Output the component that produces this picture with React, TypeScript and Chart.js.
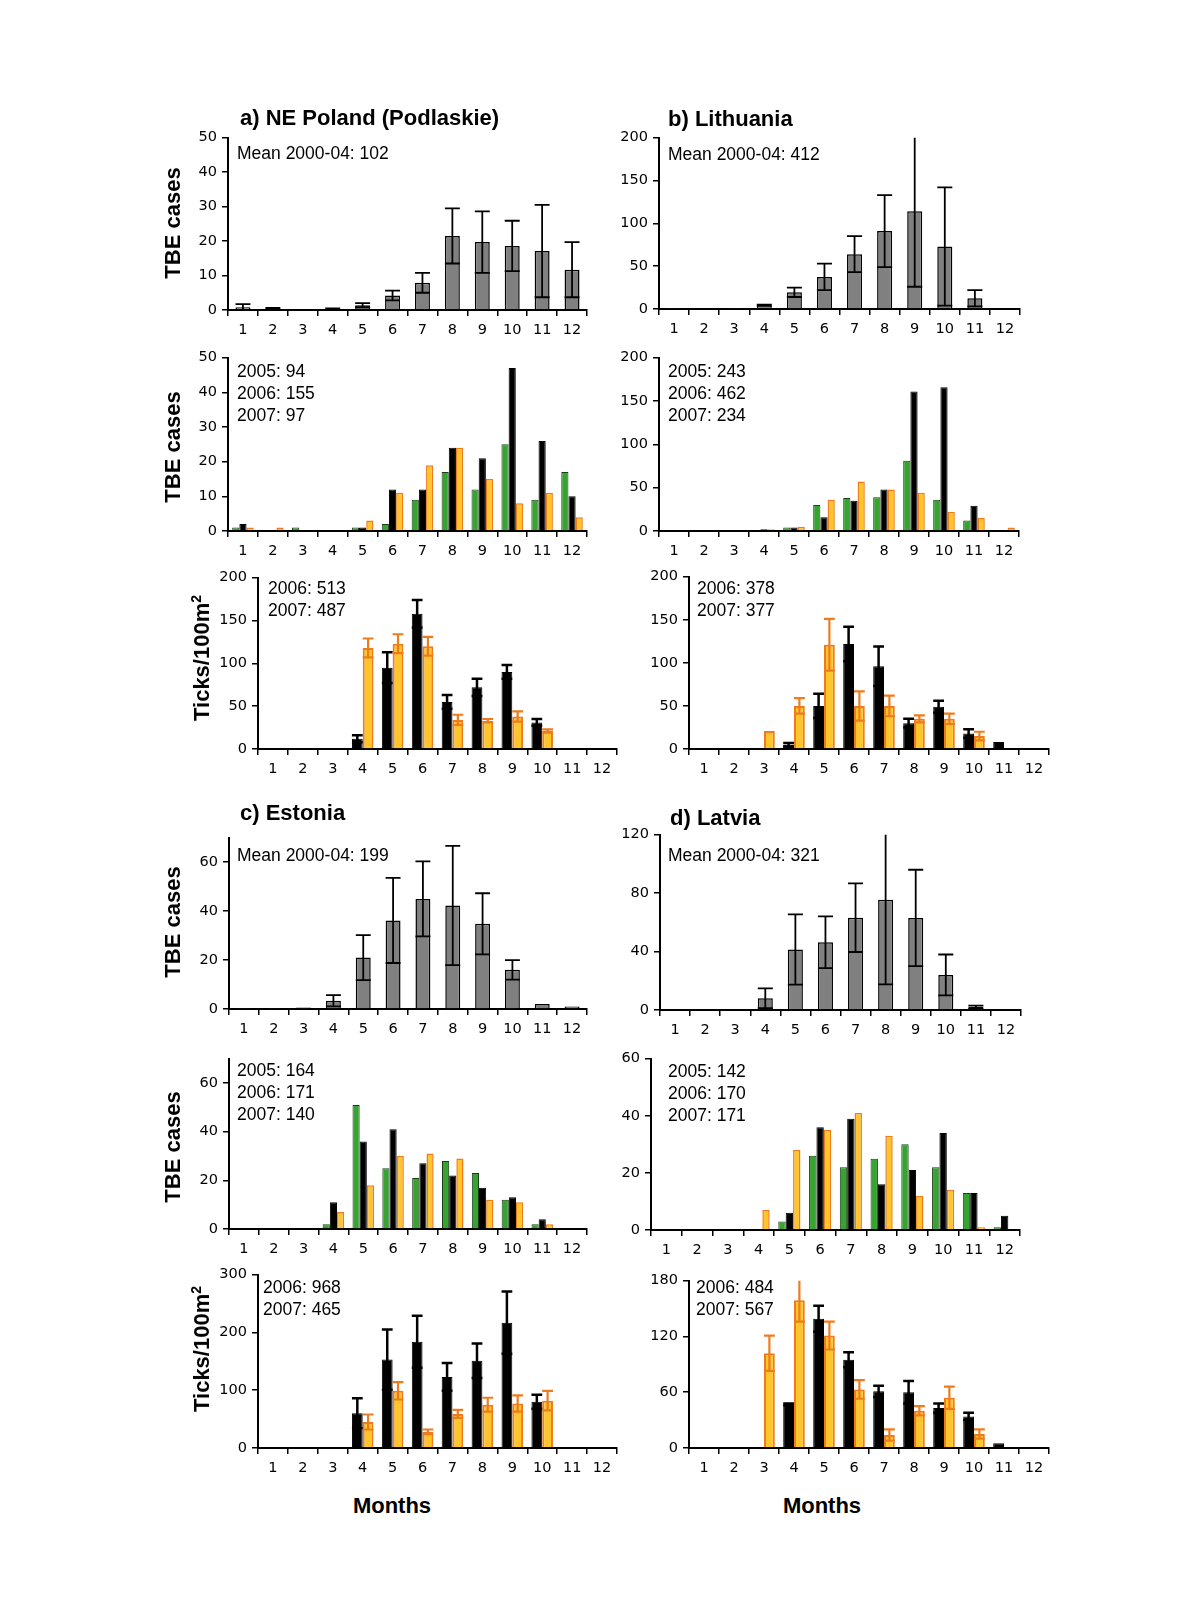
import React, { useEffect, useRef } from 'react';
import { Chart, registerables } from 'chart.js';

Chart.register(...registerables);

// ---------- data ----------
const MONTHS = ['1', '2', '3', '4', '5', '6', '7', '8', '9', '10', '11', '12'];

// a) NE Poland (Podlaskie)
const POL_MEAN = [0.8, 0.5, 0, 0.4, 1.4, 4.2, 7.9, 21.5, 19.7, 18.6, 17.1, 11.7];
const POL_MEAN_SD = [0.9, 0.1, 0, 0.1, 0.6, 1.4, 2.9, 8, 8.9, 7.3, 13.4, 8];
const POL_2005 = [1, 0, 1, 0, 1, 2, 9, 17, 12, 25, 9, 17];
const POL_2006 = [2, 0, 0, 0, 1, 12, 12, 24, 21, 47, 26, 10];
const POL_2007 = [1, 1, 0, 0, 3, 11, 19, 24, 15, 8, 11, 4];
const POL_TICKS_2006 = [null, null, null, 12, 95, 158, 55, 72, 90, 31, null, null];
const POL_TICKS_2006_SD = [0, 0, 0, 4, 18, 16, 8, 10, 8, 4, 0, 0];
const POL_TICKS_2007 = [null, null, null, 118, 123, 120, 34, 33, 38, 21, null, null];
const POL_TICKS_2007_SD = [0, 0, 0, 11, 11, 11, 6, 2, 6, 2, 0, 0];

// b) Lithuania
const LTU_MEAN = [0.5, 0, 0.5, 4.5, 19.5, 37.5, 64, 91, 114, 73, 12.5, 0];
const LTU_MEAN_SD = [0, 0, 0, 0.5, 5.5, 15.5, 21, 42, 88, 69, 9.5, 0];
const LTU_2005 = [0, 1, 0, 1, 4, 30, 38, 39, 81, 36, 12, 1];
const LTU_2006 = [0, 0, 0, 2, 4, 16, 35, 48, 161, 166, 29, 1];
const LTU_2007 = [1, 0, 0, 2, 5, 36, 57, 48, 44, 22, 15, 4];
const LTU_TICKS_2006 = [null, null, null, 5, 50, 122, 96, 30, 49, 18, 8, null];
const LTU_TICKS_2006_SD = [0, 0, 0, 2, 14, 20, 23, 5, 7, 5, 0, 0];
const LTU_TICKS_2007 = [null, null, 21, 50, 121, 50, 50, 35, 35, 15, null, null];
const LTU_TICKS_2007_SD = [0, 0, 0, 9, 30, 17, 12, 4, 6, 5, 0, 0];

// c) Estonia
const EST_MEAN = [0.2, 0.2, 0.6, 3.4, 21, 36.2, 45, 42.3, 34.8, 16, 2, 1];
const EST_MEAN_SD = [0, 0, 0, 2.3, 9.2, 17.4, 15.3, 24.4, 12.5, 4, 0, 0];
const EST_2005 = [0, 0, 0, 2, 51, 25, 21, 28, 23, 12, 2, 0];
const EST_2006 = [0, 0, 0, 11, 36, 41, 27, 22, 17, 13, 4, 0];
const EST_2007 = [0, 0, 0, 7, 18, 30, 31, 29, 12, 11, 2, 0];
const EST_TICKS_2006 = [null, null, null, 60, 153, 184, 123, 151, 217, 80, null, null];
const EST_TICKS_2006_SD = [0, 0, 0, 26, 52, 45, 24, 30, 54, 12, 0, 0];
const EST_TICKS_2007 = [null, null, null, 45, 99, 28, 59, 75, 77, 82, null, null];
const EST_TICKS_2007_SD = [0, 0, 0, 13, 15, 4, 7, 12, 14, 17, 0, 0];

// d) Latvia
const LVA_MEAN = [0, 0.5, 0.5, 8, 41.4, 46.4, 63.2, 75.5, 63, 24, 2, 0.5];
const LVA_MEAN_SD = [0, 0, 0, 6.8, 24, 17.7, 23.5, 58, 33, 14, 1, 0];
const LVA_2005 = [0, 0, 0, 0, 3, 26, 22, 25, 30, 22, 13, 1];
const LVA_2006 = [0, 0, 0, 0, 6, 36, 39, 16, 21, 34, 13, 5];
const LVA_2007 = [0, 0, 0, 7, 28, 35, 41, 33, 12, 14, 1, 0];
const LVA_TICKS_2006 = [null, null, null, 47, 139, 95, 61, 60, 43, 34, 5, null];
const LVA_TICKS_2006_SD = [0, 0, 0, 1, 14, 8, 6, 12, 5, 4, 0, 0];
const LVA_TICKS_2007 = [null, null, 102, 159, 121, 63, 14, 40, 54, 15, null, null];
const LVA_TICKS_2007_SD = [0, 0, 19, 23, 15, 10, 6, 5, 12, 5, 0, 0];

// ---------- styles ----------
const GRAY = '#808080';
const GREEN = '#37a432';
const GREEN_BORDER = '#1c3d1a';
const BLACK = '#000000';
const ORANGE = '#ffc52a';
const ORANGE_BORDER = '#ee7c1e';
const TICK_FONT = 'DejaVu Sans';
const TEXT_FONT = '"Liberation Sans", Arial, sans-serif';
const TICK_SIZE = 14.5;

const PL = 70, PR = 12, PT = 12, PB = 38;

const errorBarPlugin = {
  id: 'errorBars',
  afterDatasetsDraw(chart: any) {
    const { ctx, chartArea } = chart;
    const y = chart.scales.y;
    ctx.save();
    ctx.beginPath();
    ctx.rect(chartArea.left - 20, chartArea.top, chartArea.right - chartArea.left + 40, chartArea.bottom - chartArea.top + 2);
    ctx.clip();
    chart.data.datasets.forEach((ds: any, i: number) => {
      if (!ds.errors) return;
      const meta = chart.getDatasetMeta(i);
      meta.data.forEach((bar: any, j: number) => {
        const v = ds.data[j];
        const e = ds.errors[j];
        if (v == null || !e) return;
        const hi = y.getPixelForValue(v + e);
        const lo = y.getPixelForValue(Math.max(v - e, 0));
        const half = bar.width / 2;
        ctx.strokeStyle = ds.errColor;
        ctx.lineWidth = ds.errWidth;
        ctx.beginPath();
        ctx.moveTo(bar.x, lo);
        ctx.lineTo(bar.x, hi);
        ctx.moveTo(bar.x - half, hi);
        ctx.lineTo(bar.x + half, hi);
        ctx.moveTo(bar.x - half, lo);
        ctx.lineTo(bar.x + half, lo);
        ctx.stroke();
      });
    });
    ctx.restore();
  },
};

type DS = { data: (number | null)[]; errors?: number[]; bg: string; border: string; bw: number; errColor?: string; errWidth?: number };

type PanelProps = {
  left: number; top: number; right: number; bottom: number;
  yMax: number; yStep: number; catPct: number; datasets: DS[];
};

function Panel({ left, top, right, bottom, yMax, yStep, catPct, datasets }: PanelProps) {
  const ref = useRef<HTMLCanvasElement>(null);
  const w = right - left + PL + PR;
  const h = bottom - top + PT + PB;
  useEffect(() => {
    if (!ref.current) return;
    const chart = new Chart(ref.current, {
      type: 'bar',
      data: {
        labels: MONTHS,
        datasets: datasets.map((d) => ({
          data: d.data,
          errors: d.errors,
          errColor: d.errColor || '#000',
          errWidth: d.errWidth || 1.5,
          backgroundColor: d.bg,
          borderColor: d.border,
          borderWidth: d.bw,
          barPercentage: 1,
          categoryPercentage: catPct,
        })) as any,
      },
      options: {
        animation: false,
        responsive: false,
        maintainAspectRatio: false,
        devicePixelRatio: 1,
        layout: { padding: { top: PT, right: PR, left: 0, bottom: 0 } },
        plugins: { legend: { display: false }, tooltip: { enabled: false }, title: { display: false } },
        scales: {
          x: {
            type: 'category',
            offset: true,
            grid: { offset: true, drawOnChartArea: false, drawTicks: true, tickLength: 6, color: '#000', lineWidth: 1.5 },
            border: { display: true, color: '#000', width: 2 },
            ticks: { color: '#000', font: { family: TICK_FONT, size: TICK_SIZE }, padding: 6, maxRotation: 0, autoSkip: false },
            afterFit: (s: any) => { s.height = PB; },
          },
          y: {
            min: 0,
            max: yMax,
            ticks: { stepSize: yStep, color: '#000', font: { family: TICK_FONT, size: TICK_SIZE }, padding: 5 },
            afterBuildTicks: (s: any) => { s.ticks = s.ticks.filter((t: any) => Math.abs(t.value / yStep - Math.round(t.value / yStep)) < 1e-6); },
            grid: { drawOnChartArea: false, drawTicks: true, tickLength: 6, color: '#000', lineWidth: 1.5 },
            border: { display: true, color: '#000', width: 2 },
            afterFit: (s: any) => { s.width = PL; },
          },
        },
      } as any,
      plugins: [errorBarPlugin],
    });
    return () => chart.destroy();
  }, []);
  return (
    <canvas
      ref={ref}
      width={w}
      height={h}
      style={{ position: 'absolute', left: left - PL, top: top - PT, width: w, height: h }}
    />
  );
}

const meanDS = (data: number[], sd: number[]): DS[] => [
  { data, errors: sd, bg: GRAY, border: BLACK, bw: 1.5, errColor: BLACK, errWidth: 1.8 },
];
const yearsDS = (a: number[], b: number[], c: number[]): DS[] => [
  { data: a, bg: GREEN, border: GREEN_BORDER, bw: 1 },
  { data: b, bg: BLACK, border: BLACK, bw: 1 },
  { data: c, bg: ORANGE, border: ORANGE_BORDER, bw: 1.5 },
];
const ticksDS = (a: (number | null)[], asd: number[], b: (number | null)[], bsd: number[]): DS[] => [
  { data: a, errors: asd, bg: BLACK, border: BLACK, bw: 1, errColor: BLACK, errWidth: 2.5 },
  { data: b, errors: bsd, bg: ORANGE, border: ORANGE_BORDER, bw: 2, errColor: ORANGE_BORDER, errWidth: 2.2 },
];

const PANELS: PanelProps[] = [
  { left: 228, top: 136, right: 587, bottom: 310, yMax: 50, yStep: 10, catPct: 0.5, datasets: meanDS(POL_MEAN, POL_MEAN_SD) },
  { left: 659, top: 136, right: 1020, bottom: 309, yMax: 200, yStep: 50, catPct: 0.5, datasets: meanDS(LTU_MEAN, LTU_MEAN_SD) },
  { left: 228, top: 356, right: 587, bottom: 531, yMax: 50, yStep: 10, catPct: 0.72, datasets: yearsDS(POL_2005, POL_2006, POL_2007) },
  { left: 659, top: 356, right: 1019, bottom: 531, yMax: 200, yStep: 50, catPct: 0.72, datasets: yearsDS(LTU_2005, LTU_2006, LTU_2007) },
  { left: 258, top: 576, right: 617, bottom: 749, yMax: 200, yStep: 50, catPct: 0.72, datasets: ticksDS(POL_TICKS_2006, POL_TICKS_2006_SD, POL_TICKS_2007, POL_TICKS_2007_SD) },
  { left: 689, top: 575, right: 1049, bottom: 749, yMax: 200, yStep: 50, catPct: 0.72, datasets: ticksDS(LTU_TICKS_2006, LTU_TICKS_2006_SD, LTU_TICKS_2007, LTU_TICKS_2007_SD) },
  { left: 229, top: 836, right: 587, bottom: 1009, yMax: 70, yStep: 20, catPct: 0.5, datasets: meanDS(EST_MEAN, EST_MEAN_SD) },
  { left: 660, top: 833, right: 1021, bottom: 1010, yMax: 120, yStep: 40, catPct: 0.5, datasets: meanDS(LVA_MEAN, LVA_MEAN_SD) },
  { left: 229, top: 1057, right: 587, bottom: 1229, yMax: 70, yStep: 20, catPct: 0.72, datasets: yearsDS(EST_2005, EST_2006, EST_2007) },
  { left: 651, top: 1057, right: 1020, bottom: 1230, yMax: 60, yStep: 20, catPct: 0.72, datasets: yearsDS(LVA_2005, LVA_2006, LVA_2007) },
  { left: 258, top: 1273, right: 617, bottom: 1448, yMax: 300, yStep: 100, catPct: 0.72, datasets: ticksDS(EST_TICKS_2006, EST_TICKS_2006_SD, EST_TICKS_2007, EST_TICKS_2007_SD) },
  { left: 689, top: 1279, right: 1049, bottom: 1448, yMax: 180, yStep: 60, catPct: 0.72, datasets: ticksDS(LVA_TICKS_2006, LVA_TICKS_2006_SD, LVA_TICKS_2007, LVA_TICKS_2007_SD) },
];

// text: [x, yCenterOfFirstLine, lines]
const NOTES: [number, number, string[]][] = [
  [237, 154, ['Mean 2000-04: 102']],
  [668, 155, ['Mean 2000-04: 412']],
  [237, 372, ['2005: 94', '2006: 155', '2007: 97']],
  [668, 372, ['2005: 243', '2006: 462', '2007: 234']],
  [268, 589, ['2006: 513', '2007: 487']],
  [697, 589, ['2006: 378', '2007: 377']],
  [237, 856, ['Mean 2000-04: 199']],
  [668, 856, ['Mean 2000-04: 321']],
  [237, 1071, ['2005: 164', '2006: 171', '2007: 140']],
  [668, 1072, ['2005: 142', '2006: 170', '2007: 171']],
  [263, 1288, ['2006: 968', '2007: 465']],
  [696, 1288, ['2006: 484', '2007: 567']],
];

const TITLES: [number, number, string][] = [
  [240, 118, 'a) NE Poland (Podlaskie)'],
  [668, 119, 'b) Lithuania'],
  [240, 813, 'c) Estonia'],
  [670, 818, 'd) Latvia'],
];

const YTITLES: [number, number, boolean][] = [
  [173, 223, false],
  [173, 447, false],
  [202, 658, true],
  [173, 922, false],
  [173, 1147, false],
  [202, 1349, true],
];

export default function App() {
  return (
    <div style={{ position: 'absolute', left: 0, top: 0, width: 1200, height: 1600, background: '#fff', overflow: 'hidden' }}>
      {PANELS.map((p, i) => (
        <Panel key={i} {...p} />
      ))}
      {TITLES.map(([x, y, t], i) => (
        <div key={'t' + i} style={{ position: 'absolute', left: x, top: y, transform: 'translateY(-50%)', fontFamily: TEXT_FONT, fontWeight: 'bold', fontSize: 22, lineHeight: 1, whiteSpace: 'nowrap', color: '#000' }}>{t}</div>
      ))}
      {NOTES.map(([x, y, lines], i) => (
        <div key={'n' + i} style={{ position: 'absolute', left: x, top: y - 10.8, fontFamily: TEXT_FONT, fontSize: 17.5, lineHeight: '21.7px', whiteSpace: 'nowrap', color: '#000' }}>
          {lines.map((l, k) => (<div key={k}>{l}</div>))}
        </div>
      ))}
      {YTITLES.map(([x, y, ticks], i) => (
        <div key={'y' + i} style={{ position: 'absolute', left: x, top: y, transform: 'translate(-50%, -50%) rotate(-90deg)', fontFamily: TEXT_FONT, fontWeight: 'bold', fontSize: 22, lineHeight: 1, whiteSpace: 'nowrap', color: '#000' }}>
          {ticks ? (<span>Ticks/100m<sup style={{ fontSize: 14, verticalAlign: 'super', lineHeight: 0 }}>2</sup></span>) : 'TBE cases'}
        </div>
      ))}
      {[392, 822].map((x, i) => (
        <div key={'m' + i} style={{ position: 'absolute', left: x, top: 1506, transform: 'translate(-50%, -50%)', fontFamily: TEXT_FONT, fontWeight: 'bold', fontSize: 22, lineHeight: 1, whiteSpace: 'nowrap', color: '#000' }}>Months</div>
      ))}
    </div>
  );
}
